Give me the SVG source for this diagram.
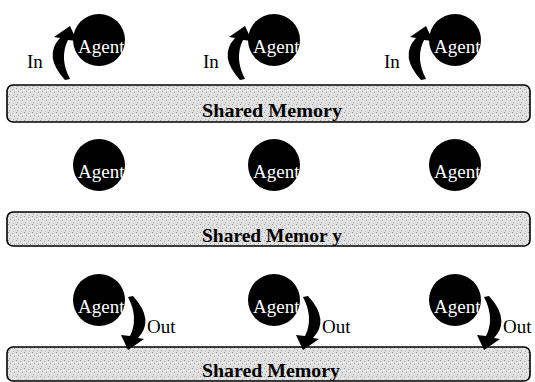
<svg xmlns="http://www.w3.org/2000/svg" width="535" height="382" viewBox="0 0 535 382">
  <style>
    .agent-circle { fill: #000; }
    .agent-label { font-family: "Liberation Serif", "Times New Roman", serif; font-size: 19px; fill: #fff; }
    .lbl { font-family: "Liberation Serif", "Times New Roman", serif; font-size: 19px; fill: #000; }
    .mem { fill: url(#stipple); stroke: #000; stroke-width: 1.6; }
    .mem-label { font-family: "Liberation Serif", "Times New Roman", serif; font-size: 19px; font-weight: bold; fill: #000; }
    .arrow { fill: #000; }
  </style>
  <defs>
    <pattern id="stipple" width="8" height="8" patternUnits="userSpaceOnUse">
      <rect width="8" height="8" fill="#e0e0e0"/>
      <rect x="0" y="0" width="1" height="1" fill="#9a9a9a"/>
      <rect x="4" y="1" width="1" height="1" fill="#b0b0b0"/>
      <rect x="2" y="3" width="1" height="1" fill="#a0a0a0"/>
      <rect x="6" y="4" width="1" height="1" fill="#999"/>
      <rect x="1" y="6" width="1" height="1" fill="#aaa"/>
      <rect x="5" y="7" width="1" height="1" fill="#b5b5b5"/>
      <rect x="7" y="2" width="1" height="1" fill="#f4f4f4"/>
      <rect x="3" y="5" width="1" height="1" fill="#f6f6f6"/>
    </pattern>
    <path id="inArrow" d="M-29,-14 L-22,1 L-31,0 Q-40,18 -29,39 L-34,40 Q-56,16 -39,-2 L-45,-3 Z"/>
    <clipPath id="c1"><circle cx="99" cy="40" r="26"/></clipPath>
    <clipPath id="c2"><circle cx="274" cy="40" r="26"/></clipPath>
    <clipPath id="c3"><circle cx="455" cy="40" r="26"/></clipPath>
    <clipPath id="c4"><circle cx="99" cy="165" r="26"/></clipPath>
    <clipPath id="c5"><circle cx="274" cy="165" r="26"/></clipPath>
    <clipPath id="c6"><circle cx="455" cy="165" r="26"/></clipPath>
    <clipPath id="c7"><circle cx="99" cy="300" r="26"/></clipPath>
    <clipPath id="c8"><circle cx="274" cy="300" r="26"/></clipPath>
    <clipPath id="c9"><circle cx="455" cy="300" r="26"/></clipPath>
  </defs>

  <!-- Shared memory bars -->
  <g id="memory1">
    <rect class="mem" x="7" y="85" width="523" height="37" rx="6"/>
    <text class="mem-label" x="202" y="117" textLength="140" lengthAdjust="spacingAndGlyphs">Shared Memory</text>
  </g>
  <g id="memory2">
    <rect class="mem" x="7" y="212" width="523" height="34" rx="6"/>
    <text class="mem-label" x="202" y="242" textLength="140" lengthAdjust="spacingAndGlyphs">Shared Memor y</text>
  </g>
  <g id="memory3">
    <rect class="mem" x="7" y="347" width="523" height="34" rx="6"/>
    <text class="mem-label" x="202" y="377" textLength="138" lengthAdjust="spacingAndGlyphs">Shared Memory</text>
  </g>

  <!-- Agents row 1 -->
  <g id="agent1">
    <circle class="agent-circle" cx="99" cy="40" r="26"/>
    <text class="agent-label" x="78" y="53" clip-path="url(#c1)">Agent</text>
  </g>
  <g id="agent2">
    <circle class="agent-circle" cx="274" cy="40" r="26"/>
    <text class="agent-label" x="253" y="53" clip-path="url(#c2)">Agent</text>
  </g>
  <g id="agent3">
    <circle class="agent-circle" cx="455" cy="40" r="26"/>
    <text class="agent-label" x="434" y="53" clip-path="url(#c3)">Agent</text>
  </g>

  <!-- Agents row 2 -->
  <g id="agent4">
    <circle class="agent-circle" cx="99" cy="165" r="26"/>
    <text class="agent-label" x="78" y="178" clip-path="url(#c4)">Agent</text>
  </g>
  <g id="agent5">
    <circle class="agent-circle" cx="274" cy="165" r="26"/>
    <text class="agent-label" x="253" y="178" clip-path="url(#c5)">Agent</text>
  </g>
  <g id="agent6">
    <circle class="agent-circle" cx="455" cy="165" r="26"/>
    <text class="agent-label" x="434" y="178" clip-path="url(#c6)">Agent</text>
  </g>

  <!-- Agents row 3 -->
  <g id="agent7">
    <circle class="agent-circle" cx="99" cy="300" r="26"/>
    <text class="agent-label" x="78" y="313" clip-path="url(#c7)">Agent</text>
  </g>
  <g id="agent8">
    <circle class="agent-circle" cx="274" cy="300" r="26"/>
    <text class="agent-label" x="253" y="313" clip-path="url(#c8)">Agent</text>
  </g>
  <g id="agent9">
    <circle class="agent-circle" cx="455" cy="300" r="26"/>
    <text class="agent-label" x="434" y="313" clip-path="url(#c9)">Agent</text>
  </g>

  <!-- Connectors -->
  <g id="connectors">
    <use href="#inArrow" class="arrow" transform="translate(99,40)"/>
    <use href="#inArrow" class="arrow" transform="translate(274,40)"/>
    <use href="#inArrow" class="arrow" transform="translate(455,40)"/>
    <text class="lbl" x="27" y="68">In</text>
    <text class="lbl" x="203" y="68">In</text>
    <text class="lbl" x="384" y="68">In</text>

    <use href="#inArrow" class="arrow" transform="translate(99,336) rotate(180)"/>
    <use href="#inArrow" class="arrow" transform="translate(274,336) rotate(180)"/>
    <use href="#inArrow" class="arrow" transform="translate(455,336) rotate(180)"/>
    <text class="lbl" x="147" y="333">Out</text>
    <text class="lbl" x="322" y="333">Out</text>
    <text class="lbl" x="503" y="333">Out</text>
  </g>
</svg>
